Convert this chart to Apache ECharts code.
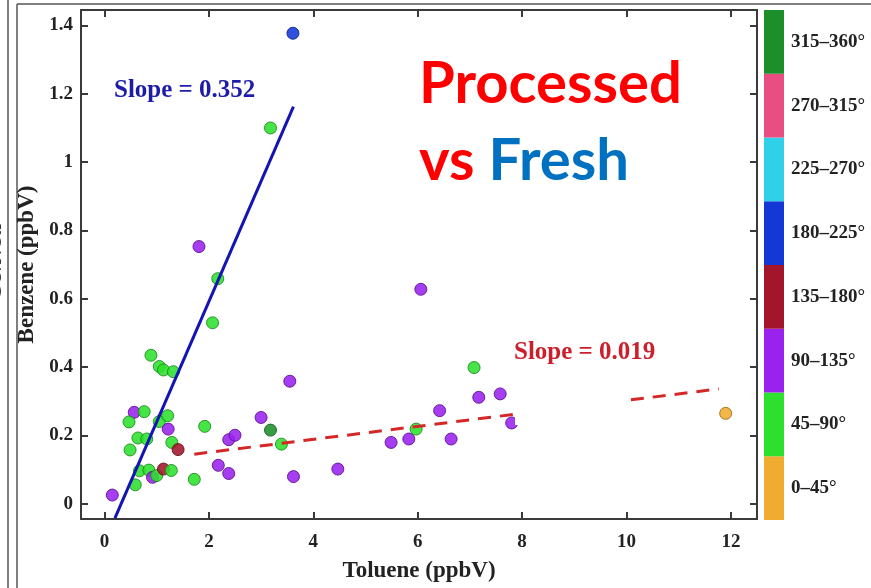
<!DOCTYPE html>
<html>
<head>
<meta charset="utf-8">
<script src="https://cdn.jsdelivr.net/npm/echarts@6/dist/echarts.min.js"></script>
<style>
  html, body { margin: 0; padding: 0; background: #fff; }
  #main { width: 871px; height: 588px; }
</style>
</head>
<body>
<div id="main"></div>
<script>
// wind sectors, bottom to top of the colour bar
var sectorNames = ['0–45°', '45–90°', '90–135°', '135–180°', '180–225°', '225–270°', '270–315°', '315–360°'];
var sectorColors = ['#f0ac30', '#2ee02e', '#9a22ee', '#a3152b', '#1438d6', '#2fd0e8', '#e84e82', '#1c8e2a'];
var sectorEdges = ['#9a6a10', '#1a8a1a', '#5a1090', '#6a0a18', '#0a2090', '#1a8090', '#902a50', '#0f5a18'];

// points: toluene (x), benzene (y), sector index
var toluene = [3.61, 3.18, 1.81, 2.17, 6.06, 2.07, 0.89, 1.05, 1.13, 1.32,
               7.08, 3.55, 7.17, 7.58, 6.42, 0.57, 0.76, 0.47, 1.05, 1.21,
               1.22, 1.92, 3.00, 3.18, 3.39, 0.64, 0.81, 2.38, 2.50, 0.49,
               1.29, 1.41, 2.18, 2.38, 3.62, 4.47, 0.67, 0.85, 0.92, 1.00,
               1.13, 1.28, 1.72, 0.59, 0.15, 5.49, 5.83, 5.97, 6.64, 7.80,
               11.90];
var benzene = [1.377, 1.100, 0.753, 0.659, 0.628, 0.530, 0.435, 0.402, 0.392, 0.387,
               0.399, 0.359, 0.312, 0.322, 0.273, 0.268, 0.270, 0.240, 0.241, 0.258,
               0.219, 0.227, 0.253, 0.216, 0.175, 0.193, 0.190, 0.188, 0.201, 0.158,
               0.180, 0.159, 0.113, 0.089, 0.080, 0.102, 0.097, 0.099, 0.078, 0.083,
               0.102, 0.098, 0.072, 0.056, 0.026, 0.180, 0.190, 0.219, 0.190, 0.237,
               0.265];
var sector = [4, 1, 2, 1, 2, 1, 1, 1, 1, 1,
              1, 2, 2, 2, 2, 2, 1, 1, 1, 1,
              2, 1, 2, 7, 1, 1, 1, 2, 2, 1,
              1, 3, 2, 2, 2, 2, 1, 1, 2, 1,
              3, 1, 1, 1, 2, 2, 2, 1, 2, 2,
              0];

// fitted lines: slope, intercept, x range
var freshFit = { slope: 0.352, intercept: -0.112, from: 0.2, to: 3.62 };
var processedFit = { slope: 0.019, intercept: 0.113, from: 1.72, to: 11.77 };

var xTicks = [0, 2, 4, 6, 8, 10, 12];
var yTicks = [0, 0.2, 0.4, 0.6, 0.8, 1.0, 1.2, 1.4];

var serif = 'Liberation Serif';
var chart = echarts.init(document.getElementById('main'));

function fitLine(f) {
    return [[f.from, f.slope * f.from + f.intercept], [f.to, f.slope * f.to + f.intercept]];
}

var points = [];
for (var i = 0; i < toluene.length; i++) {
    points.push({
        value: [toluene[i], benzene[i]],
        itemStyle: {
            color: sectorColors[sector[i]],
            borderColor: sectorEdges[sector[i]],
            borderWidth: 1,
            opacity: 0.88
        }
    });
}

var axisLine = { show: true, onZero: false, lineStyle: { color: '#3a3a3a', width: 2 } };
var tickStyle = { inside: true, length: 7, lineStyle: { color: '#3a3a3a', width: 2 } };

// colour bar as stacked bars
var barSeries = sectorNames.map(function (name, k) {
    return {
        type: 'bar',
        name: name,
        xAxisIndex: 2,
        yAxisIndex: 2,
        stack: 'dir',
        barWidth: '100%',
        data: [45],
        itemStyle: { color: sectorColors[k] },
        label: {
            show: true,
            position: 'right',
            distance: 7,
            formatter: name,
            fontFamily: serif,
            fontWeight: 'bold',
            fontSize: 19,
            color: '#222'
        },
        silent: true
    };
});

var option = {
    backgroundColor: '#fff',
    animation: false,
    grid: [
        { left: 81, top: 10, right: 114, bottom: 68 },
        { left: 764, top: 10, width: 20, height: 510 }
    ],
    xAxis: [
        {
            type: 'value', gridIndex: 0, min: -0.45, max: 12.5,
            name: 'Toluene (ppbV)', nameLocation: 'middle', nameGap: 41,
            nameTextStyle: { fontFamily: serif, fontWeight: 'bold', fontSize: 23, color: '#222' },
            axisLine: axisLine,
            axisTick: Object.assign({ customValues: xTicks }, tickStyle),
            axisLabel: { customValues: xTicks, margin: 14, fontFamily: serif, fontWeight: 'bold', fontSize: 19, color: '#222' },
            splitLine: { show: false }
        },
        {
            type: 'value', gridIndex: 0, position: 'top', min: -0.45, max: 12.5,
            axisLine: axisLine,
            axisTick: Object.assign({ customValues: xTicks }, tickStyle),
            axisLabel: { show: false },
            splitLine: { show: false }
        },
        { type: 'category', gridIndex: 1, data: ['dir'], show: false }
    ],
    yAxis: [
        {
            type: 'value', gridIndex: 0, min: -0.044, max: 1.445,
            name: 'Benzene (ppbV)', nameLocation: 'middle', nameGap: 40, nameRotate: 90,
            nameTextStyle: { fontFamily: serif, fontWeight: 'bold', fontSize: 23, color: '#222' },
            axisLine: axisLine,
            axisTick: Object.assign({ customValues: yTicks }, tickStyle),
            axisLabel: {
                customValues: yTicks, margin: 8, fontFamily: serif, fontWeight: 'bold', fontSize: 19, color: '#222',
                formatter: function (v) { return String(Math.round(v * 10) / 10); }
            },
            splitLine: { show: false }
        },
        {
            type: 'value', gridIndex: 0, position: 'right', min: -0.044, max: 1.445,
            axisLine: axisLine,
            axisTick: Object.assign({ customValues: yTicks }, tickStyle),
            axisLabel: { show: false },
            splitLine: { show: false }
        },
        { type: 'value', gridIndex: 1, min: 0, max: 360, show: false }
    ],
    series: [
        {
            type: 'scatter',
            xAxisIndex: 0, yAxisIndex: 0,
            symbolSize: 12,
            data: points,
            z: 2
        },
        {
            type: 'line',
            xAxisIndex: 0, yAxisIndex: 0,
            data: fitLine(freshFit),
            showSymbol: false,
            lineStyle: { color: '#1414b4', width: 3 },
            z: 3
        },
        {
            type: 'line',
            xAxisIndex: 0, yAxisIndex: 0,
            data: fitLine(processedFit),
            showSymbol: false,
            lineStyle: { color: '#d42828', width: 3, type: [13, 9] },
            z: 3
        }
    ].concat(barSeries),
    graphic: [
        // edges of the neighbouring panel
        { type: 'line', shape: { x1: 8, y1: 0, x2: 8, y2: 588 }, style: { stroke: '#555', lineWidth: 1.5 } },
        { type: 'line', shape: { x1: 17, y1: 4, x2: 17, y2: 588 }, style: { stroke: '#555', lineWidth: 1.5 } },
        { type: 'line', shape: { x1: 17, y1: 4, x2: 871, y2: 4 }, style: { stroke: '#555', lineWidth: 1.5 } },
        {
            type: 'text', x: -4, y: 262, rotation: Math.PI / 2,
            style: { text: 'CO/NOx', fontFamily: serif, fontWeight: 'bold', fontSize: 20, fill: '#333', align: 'center', verticalAlign: 'middle' }
        },
        // patch hiding part of the dashed line
        { type: 'rect', z: 100, shape: { x: 515, y: 366, width: 113, height: 59 }, style: { fill: '#fff' } },
        {
            type: 'text', z: 101, x: 114, y: 78,
            style: { text: 'Slope = 0.352', fontFamily: serif, fontWeight: 'bold', fontSize: 25, fill: '#1c1ca8' }
        },
        {
            type: 'text', z: 101, x: 514, y: 340,
            style: { text: 'Slope = 0.019', fontFamily: serif, fontWeight: 'bold', fontSize: 25, fill: '#cc1f2b', backgroundColor: '#fff' }
        },
        {
            type: 'text', z: 101, x: 419, y: 55,
            style: { text: 'Processed', fontFamily: 'Lato', fontWeight: 'bold', fontSize: 58, fill: '#ff0000' }
        },
        {
            type: 'text', z: 101, x: 419, y: 132,
            style: {
                text: '{r|vs }{b|Fresh}',
                rich: {
                    r: { fontFamily: 'Lato', fontWeight: 'bold', fontSize: 58, fill: '#ff0000' },
                    b: { fontFamily: 'Lato', fontWeight: 'bold', fontSize: 58, fill: '#0070c0' }
                }
            }
        }
    ]
};
chart.setOption(option);
</script>
</body>
</html>
